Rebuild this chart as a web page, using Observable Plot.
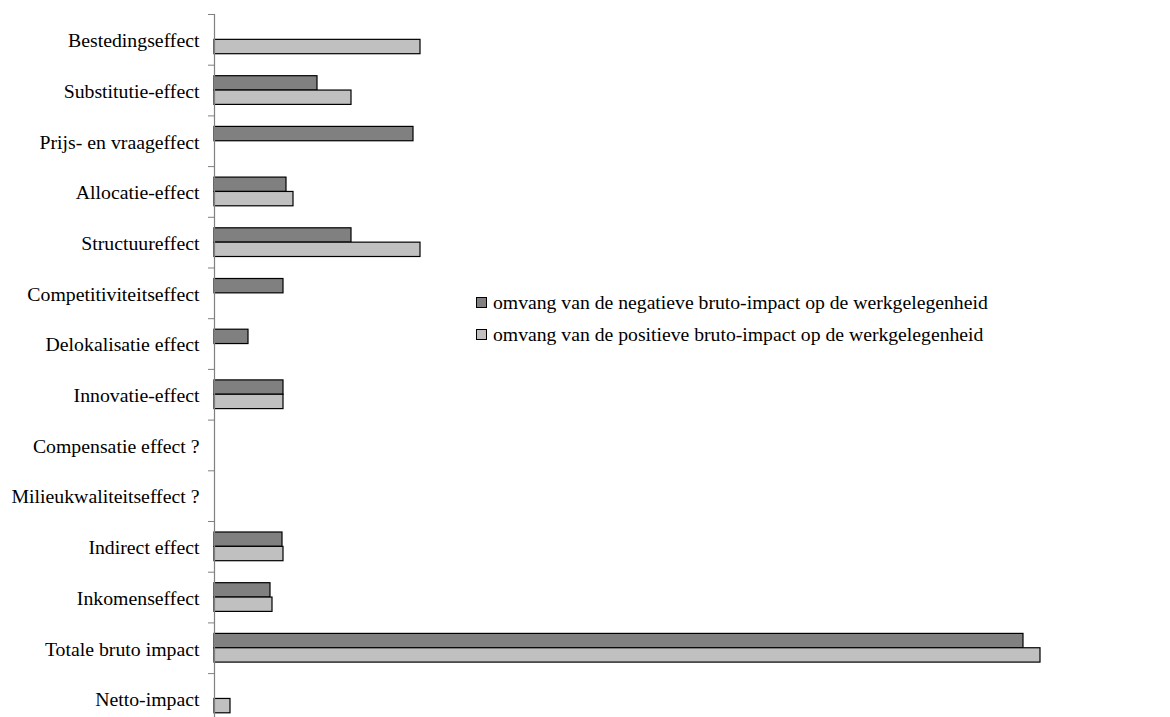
<!DOCTYPE html>
<html><head><meta charset="utf-8">
<script src="https://cdn.jsdelivr.net/npm/d3@7"></script>
<script src="https://cdn.jsdelivr.net/npm/@observablehq/plot@0.6"></script>
<style>
html,body{margin:0;padding:0;background:#fff;overflow:hidden;}
#wrap{position:relative;width:1170px;height:717px;}
#legend{position:absolute;left:476px;top:286px;}
.item{display:flex;align-items:center;height:32px;}
.sw{width:9px;height:9px;border:1px solid #000;margin-right:6px;flex:none;}
</style>
</head><body>
<div id="wrap"><div id="legend"></div></div>
<script>
const categories = ["Bestedingseffect","Substitutie-effect","Prijs- en vraageffect","Allocatie-effect","Structuureffect","Competitiviteitseffect","Delokalisatie effect","Innovatie-effect","Compensatie effect ?","Milieukwaliteitseffect ?","Indirect effect","Inkomenseffect","Totale bruto impact","Netto-impact"];
const negatief = [null,103,199,72,137,69,34,69,null,null,68,56,809,null];
const positief = [206,137,null,79,206,null,null,69,null,null,69,58,826,16];
const seriesNames = ["omvang van de negatieve bruto-impact op de werkgelegenheid","omvang van de positieve bruto-impact op de werkgelegenheid"];
const colors = ["#808080","#c0c0c0"];

const FONT = '"Liberation Serif", serif';
const negData = categories.map((c,i)=>({cat:c, v:negatief[i]})).filter(d=>d.v!=null);
const posData = categories.map((c,i)=>({cat:c, v:positief[i]})).filter(d=>d.v!=null);

const band = 50.7;
const chart = Plot.plot({
  width: 1170,
  height: 14 + 14*band,
  marginTop: 14,
  marginBottom: 0,
  marginLeft: 214,
  marginRight: 56,
  style: {fontFamily: FONT, fontSize: "20px", color: "#000", background: "#fff"},
  x: {domain: [0, 900], axis: null},
  y: {domain: categories, padding: 0, round: false, axis: null},
  marks: [
    Plot.axisY({tickSize: 6, tickFormat: () => "", dy: -band/2, stroke: "#808080", label: null}),
    Plot.axisY({tickSize: 0, tickPadding: 15, dy: 1, fill: "#000", fontSize: 19.8, label: null}),
    Plot.barX(negData, {x: "v", y: "cat", fill: colors[0], stroke: "#000", strokeWidth: 1.2, insetTop: 11, insetBottom: band-25.35}),
    Plot.barX(posData, {x: "v", y: "cat", fill: colors[1], stroke: "#000", strokeWidth: 1.2, insetTop: 25.35, insetBottom: band-39.7}),
    Plot.ruleX([0], {stroke: "#808080", strokeWidth: 1.2})
  ]
});
document.getElementById("wrap").prepend(chart);
const lg = document.getElementById("legend");
seriesNames.forEach((n,i)=>{
  const it = document.createElement("div"); it.className="item";
  const sw = document.createElement("div"); sw.className="sw"; sw.style.background=colors[i];
  const t = document.createElement("span"); t.textContent = n;
  t.style.fontFamily = FONT; t.style.fontSize = "19.7px"; t.style.color = "#000";
  it.appendChild(sw); it.appendChild(t); lg.appendChild(it);
});
</script>
</body></html>
